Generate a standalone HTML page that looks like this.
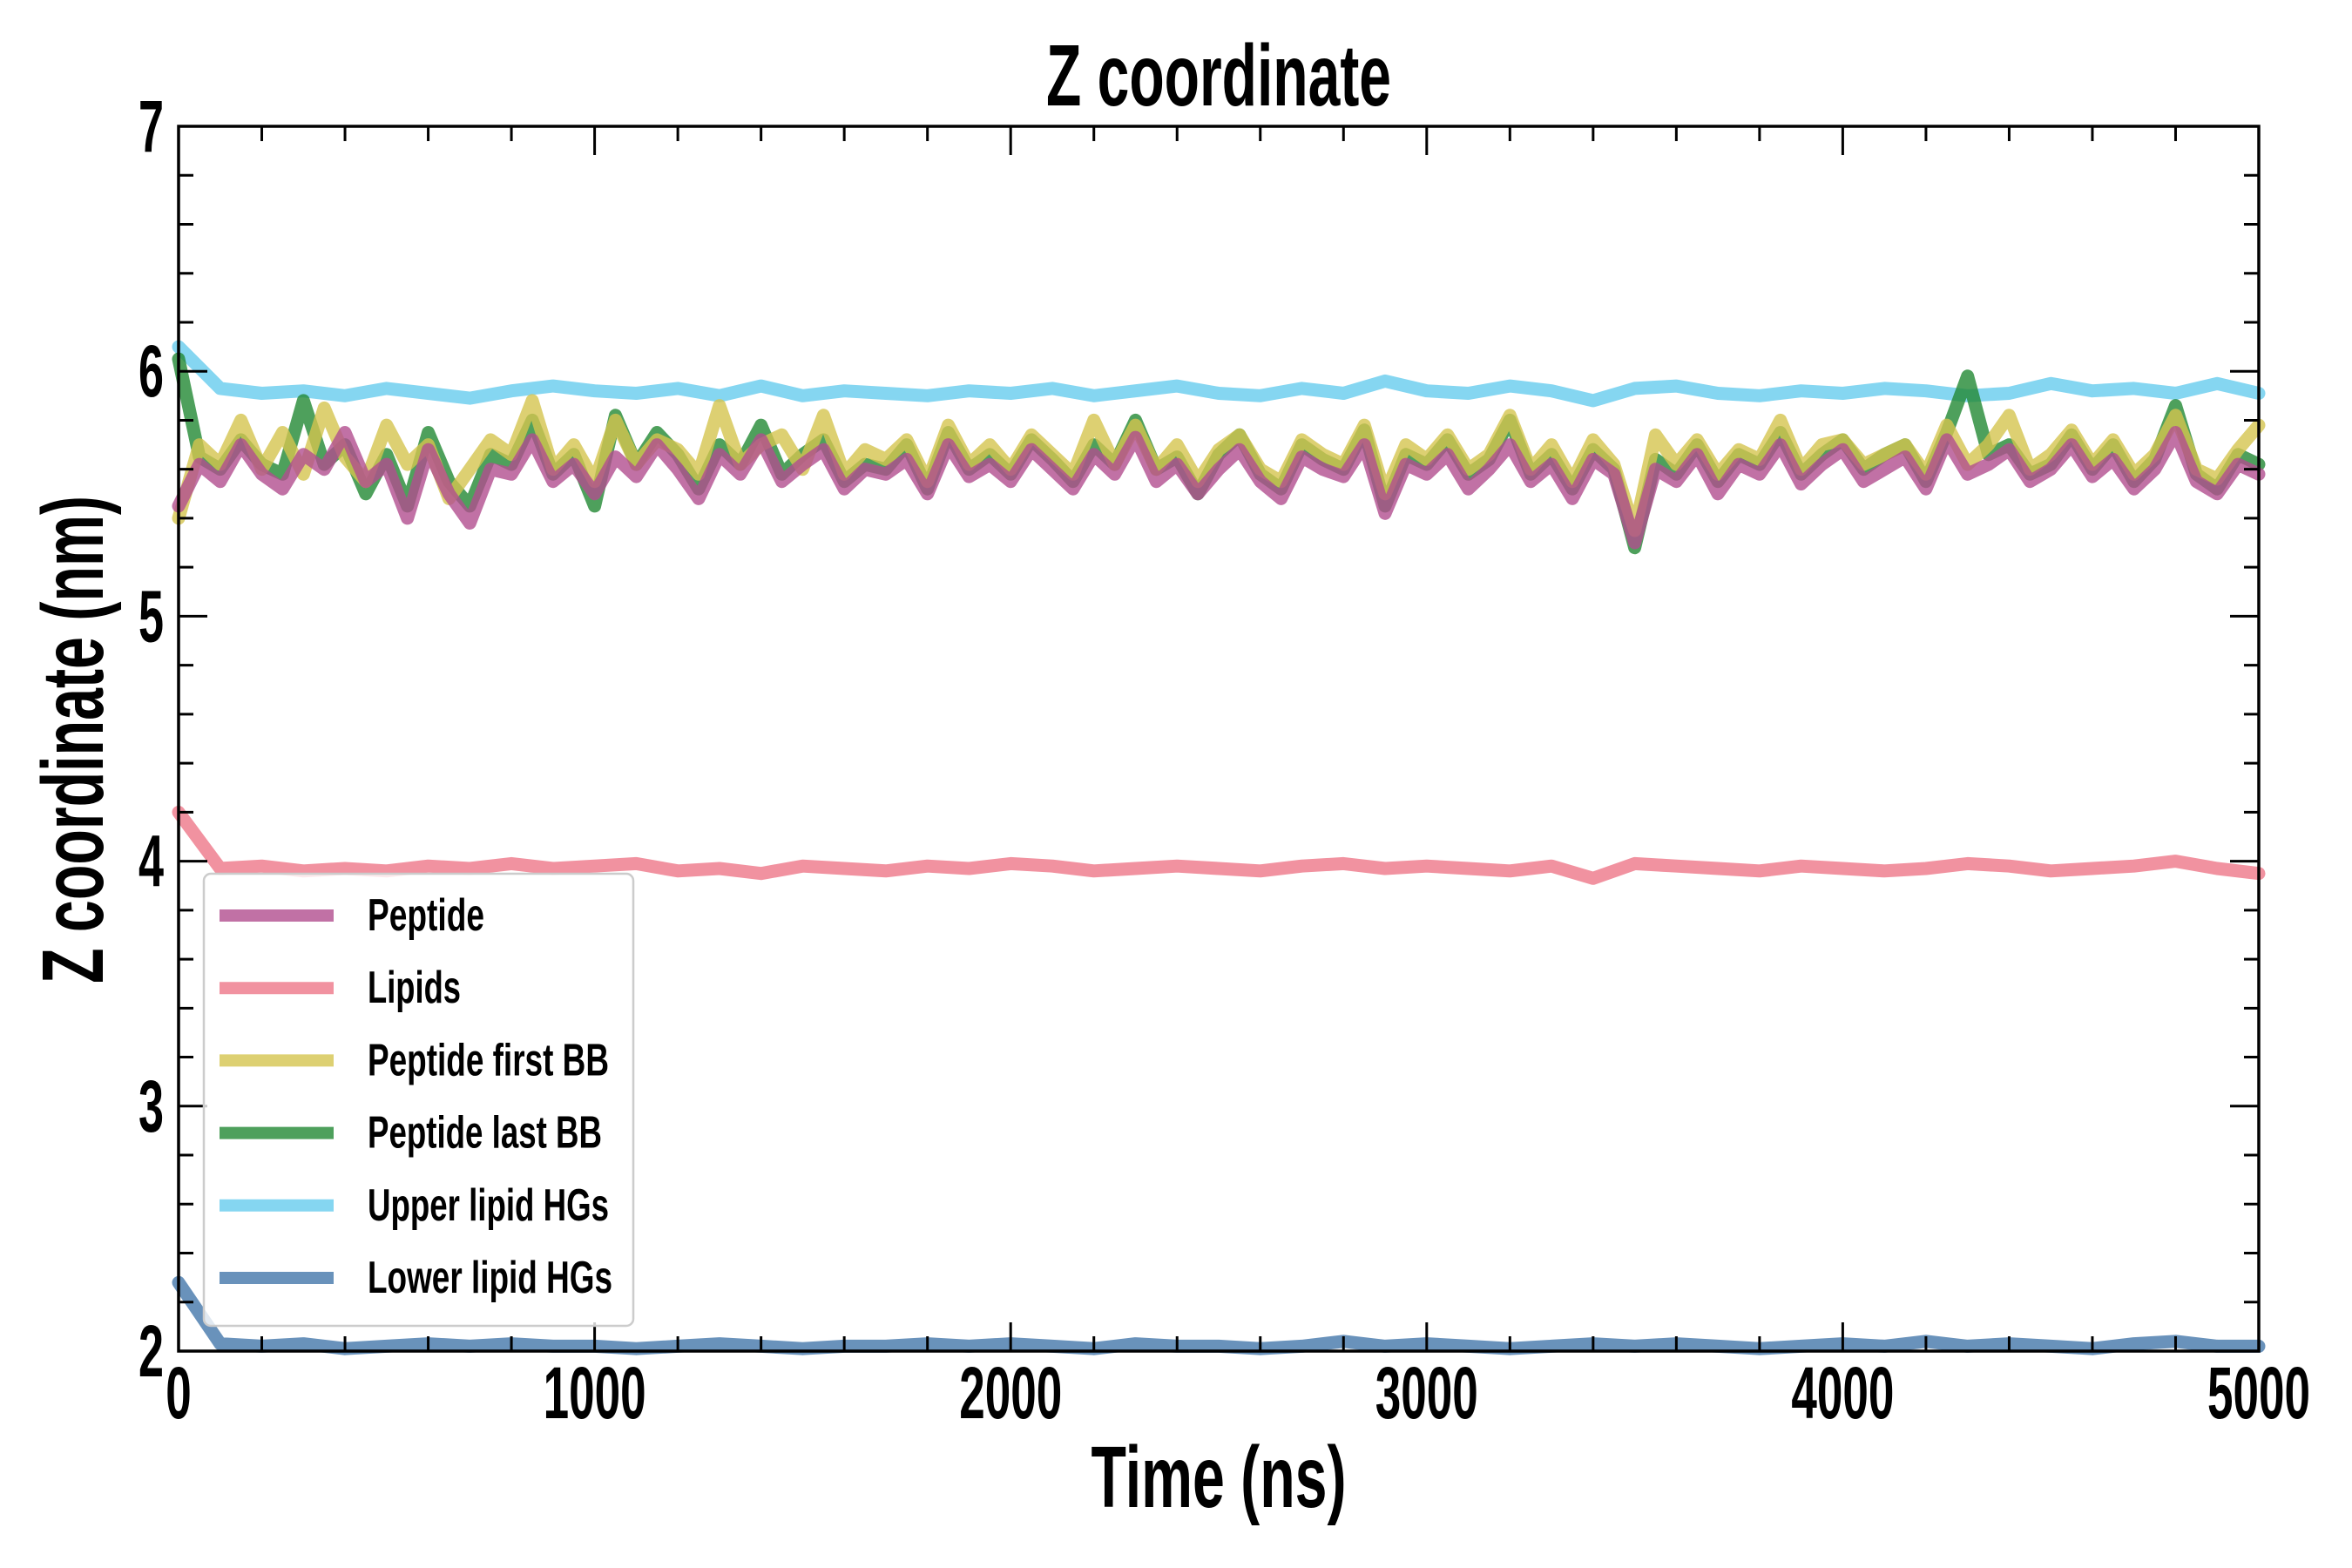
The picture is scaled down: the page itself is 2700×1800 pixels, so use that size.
<!DOCTYPE html>
<html><head><meta charset="utf-8"><style>
html,body{margin:0;padding:0;background:#fff;}
svg{display:block;font-family:"Liberation Sans",sans-serif;font-weight:bold;}
</style></head><body>
<svg id="chart" width="2700" height="1800" viewBox="0 0 2700 1800" xmlns="http://www.w3.org/2000/svg">
<rect width="2700" height="1800" fill="#fff"/>
<g id="series"></g>
<g id="axes"></g>
<text x="1399" y="121" font-size="100" text-anchor="middle" textLength="396" lengthAdjust="spacingAndGlyphs">Z coordinate</text>
<text x="1399" y="1730" font-size="100" text-anchor="middle" textLength="293" lengthAdjust="spacingAndGlyphs">Time (ns)</text>
<text transform="translate(118,849) rotate(-90)" font-size="100" text-anchor="middle" textLength="560" lengthAdjust="spacingAndGlyphs">Z coordinate (nm)</text>
<g id="legend"></g>
</svg>
<script>
const xTicks = [0,1000,2000,3000,4000,5000];
const yTicks = [2,3,4,5,6,7];
const seriesNames = ["Peptide","Lipids","Peptide first BB","Peptide last BB","Upper lipid HGs","Lower lipid HGs"];
const peptide = [5.45,5.62,5.55,5.70,5.58,5.52,5.66,5.60,5.75,5.55,5.62,5.40,5.68,5.50,5.38,5.60,5.58,5.72,5.55,5.62,5.50,5.65,5.57,5.70,5.60,5.48,5.66,5.58,5.72,5.55,5.62,5.68,5.52,5.60,5.58,5.64,5.50,5.70,5.57,5.62,5.55,5.68,5.60,5.52,5.66,5.58,5.73,5.55,5.62,5.50,5.60,5.68,5.55,5.48,5.65,5.60,5.57,5.70,5.42,5.62,5.58,5.66,5.52,5.60,5.70,5.55,5.62,5.48,5.64,5.58,5.30,5.60,5.55,5.66,5.50,5.62,5.58,5.70,5.54,5.62,5.68,5.55,5.60,5.65,5.52,5.72,5.58,5.62,5.68,5.55,5.60,5.70,5.57,5.64,5.52,5.60,5.75,5.55,5.50,5.62,5.58];
const lipids = [4.20,3.97,3.98,3.96,3.97,3.96,3.98,3.97,3.99,3.97,3.98,3.99,3.96,3.97,3.95,3.98,3.97,3.96,3.98,3.97,3.99,3.98,3.96,3.97,3.98,3.97,3.96,3.98,3.99,3.97,3.98,3.97,3.96,3.98,3.93,3.99,3.98,3.97,3.96,3.98,3.97,3.96,3.97,3.99,3.98,3.96,3.97,3.98,4.00,3.97,3.95];
const firstBB = [5.40,5.70,5.62,5.80,5.60,5.75,5.58,5.85,5.65,5.55,5.78,5.62,5.70,5.48,5.60,5.72,5.66,5.88,5.60,5.70,5.55,5.80,5.62,5.72,5.68,5.58,5.86,5.62,5.70,5.74,5.60,5.82,5.58,5.68,5.64,5.72,5.55,5.78,5.62,5.70,5.60,5.74,5.66,5.58,5.80,5.62,5.78,5.60,5.70,5.55,5.68,5.74,5.60,5.55,5.72,5.66,5.62,5.78,5.50,5.70,5.64,5.74,5.60,5.66,5.82,5.60,5.70,5.55,5.72,5.62,5.35,5.74,5.62,5.72,5.58,5.68,5.64,5.80,5.60,5.70,5.72,5.62,5.66,5.70,5.58,5.78,5.62,5.70,5.82,5.60,5.66,5.76,5.62,5.72,5.58,5.66,5.82,5.60,5.56,5.68,5.78];
const lastBB = [6.05,5.65,5.60,5.72,5.62,5.58,5.88,5.62,5.70,5.50,5.66,5.45,5.75,5.55,5.45,5.66,5.62,5.80,5.58,5.66,5.45,5.82,5.62,5.75,5.66,5.52,5.70,5.62,5.78,5.58,5.66,5.72,5.55,5.62,5.60,5.70,5.52,5.75,5.60,5.66,5.58,5.72,5.64,5.55,5.70,5.62,5.80,5.60,5.65,5.50,5.66,5.74,5.58,5.52,5.70,5.64,5.60,5.76,5.45,5.66,5.62,5.72,5.58,5.64,5.80,5.58,5.66,5.52,5.68,5.60,5.28,5.64,5.58,5.70,5.55,5.66,5.62,5.75,5.58,5.66,5.72,5.60,5.66,5.70,5.55,5.75,5.98,5.66,5.70,5.58,5.62,5.74,5.60,5.70,5.55,5.64,5.86,5.58,5.52,5.66,5.62];
const upperHG = [6.10,5.93,5.91,5.92,5.90,5.93,5.91,5.89,5.92,5.94,5.92,5.91,5.93,5.90,5.94,5.90,5.92,5.91,5.90,5.92,5.91,5.93,5.90,5.92,5.94,5.91,5.90,5.93,5.91,5.96,5.92,5.91,5.94,5.92,5.88,5.93,5.94,5.91,5.90,5.92,5.91,5.93,5.92,5.90,5.91,5.95,5.92,5.93,5.91,5.95,5.91];
const lowerHG = [2.28,2.03,2.02,2.03,2.01,2.02,2.03,2.02,2.03,2.02,2.02,2.01,2.02,2.03,2.02,2.01,2.02,2.02,2.03,2.02,2.03,2.02,2.01,2.03,2.02,2.02,2.01,2.02,2.04,2.02,2.03,2.02,2.01,2.02,2.03,2.02,2.03,2.02,2.01,2.02,2.03,2.02,2.04,2.02,2.03,2.02,2.01,2.03,2.04,2.02,2.02];

const NS = "http://www.w3.org/2000/svg";
const L = 205, R = 2593, T = 145, B = 1551;
const xMin = 0, xMax = 5000, yMin = 2, yMax = 7;
function xs(v){ return L + (v - xMin) / (xMax - xMin) * (R - L); }
function ys(v){ return B - (v - yMin) / (yMax - yMin) * (B - T); }
function mk(tag, attrs, parent){ const e = document.createElementNS(NS, tag); for (const k in attrs) e.setAttribute(k, attrs[k]); parent.appendChild(e); return e; }

const colors = {"Peptide":"#b14d8e","Lipids":"#ee7788","Peptide first BB":"#d4c44f","Peptide last BB":"#228833","Upper lipid HGs":"#66ccee","Lower lipid HGs":"#4477aa"};
const dataByName = {"Peptide":peptide,"Lipids":lipids,"Peptide first BB":firstBB,"Peptide last BB":lastBB,"Upper lipid HGs":upperHG,"Lower lipid HGs":lowerHG};
const drawOrder = ["Lipids","Upper lipid HGs","Lower lipid HGs","Peptide last BB","Peptide first BB","Peptide"];

const sg = document.getElementById("series");
drawOrder.forEach(name => {
  const arr = dataByName[name];
  const step = (xMax - xMin) / (arr.length - 1);
  const pts = arr.map((v, i) => xs(xMin + i * step).toFixed(1) + "," + ys(v).toFixed(1)).join(" ");
  const pl = mk("polyline", {points: pts, fill: "none", stroke: colors[name], "stroke-width": 15, "stroke-opacity": 0.8, "stroke-linejoin": "round", "stroke-linecap": "round"}, sg);
  
  
});

const ag = document.getElementById("axes");
const frame = mk("rect", {x: L, y: T, width: R - L, height: B - T, fill: "none", stroke: "#000", "stroke-width": 3.5}, ag);


for (let v = xMin; v <= xMax; v += 200) {
  const major = xTicks.includes(v); const len = major ? 33 : 17; const x = xs(v);
  const t1 = mk("line", {x1: x, y1: B, x2: x, y2: B - len, stroke: "#000", "stroke-width": 3}, ag);
  
  
  const t2 = mk("line", {x1: x, y1: T, x2: x, y2: T + len, stroke: "#000", "stroke-width": 3}, ag);
  
  
}
for (let k = 0; k <= 25; k++) {
  const v = yMin + k * 0.2; const major = k % 5 === 0; const len = major ? 33 : 17; const y = ys(v);
  const t1 = mk("line", {x1: L, y1: y, x2: L + len, y2: y, stroke: "#000", "stroke-width": 3}, ag);
  
  
  const t2 = mk("line", {x1: R, y1: y, x2: R - len, y2: y, stroke: "#000", "stroke-width": 3}, ag);
  
  
}
xTicks.forEach(v => {
  const s = String(v);
  const t = mk("text", {x: xs(v), y: 1628, "font-size": 84, "text-anchor": "middle", textLength: 29.5 * s.length, lengthAdjust: "spacingAndGlyphs"}, ag);
  t.textContent = s;
  
  
});
yTicks.forEach(v => {
  const s = String(v);
  const t = mk("text", {x: 188, y: ys(v) + 29, "font-size": 84, "text-anchor": "end", textLength: 29 * s.length, lengthAdjust: "spacingAndGlyphs"}, ag);
  t.textContent = s;
  
  
});

const lg = document.getElementById("legend");
const box = mk("rect", {x: 234, y: 1003, width: 493, height: 519, rx: 8, fill: "#fff", "fill-opacity": 0.8, stroke: "#cccccc", "stroke-width": 2.5}, lg);


const labelWidths = [134, 107, 277, 269, 277, 281];
seriesNames.forEach((name, i) => {
  const y = 1051 + 83.2 * i;
  const ln = mk("line", {x1: 252, y1: y, x2: 383, y2: y, stroke: colors[name], "stroke-width": 14, "stroke-opacity": 0.8}, lg);
  
  
  const tx = mk("text", {x: 422, y: y + 17, "font-size": 52, textLength: labelWidths[i], lengthAdjust: "spacingAndGlyphs"}, lg);
  tx.textContent = name;
  
  
});
</script>
</body></html>
